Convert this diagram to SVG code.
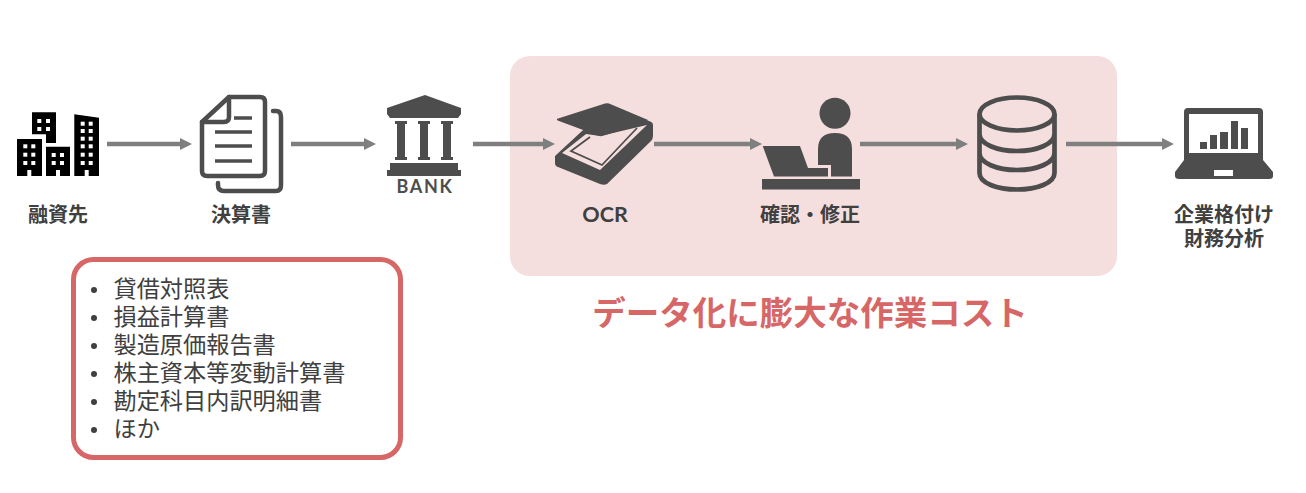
<svg xmlns="http://www.w3.org/2000/svg" width="1306" height="493" viewBox="0 0 1306 493">
<style>
.d{fill:#4d4d4d}
.o{fill:none;stroke:#4d4d4d;stroke-width:4.5;stroke-linejoin:round;stroke-linecap:round}
.w{fill:#fff}
.l{font-family:"Noto Sans CJK JP","Noto Sans",sans-serif;font-size:20px;font-weight:700;fill:#404040;text-anchor:middle}
.li{font-family:"Noto Sans CJK JP","Noto Sans",sans-serif;font-size:23.200px;fill:#404040}
.c{stroke:#7f7f7f;stroke-width:4.500;fill:none;marker-end:url(#a)}
</style>
<defs>
<marker id="a" markerUnits="userSpaceOnUse" markerWidth="12" markerHeight="12" refX="6" refY="6" orient="auto"><path d="M0 0L12 6L0 12Z" fill="#7f7f7f"/></marker>
</defs>
<rect width="1306" height="493" fill="#fff"/>
<rect id="highlight" x="510" y="56" width="607" height="220" rx="20" fill="#f5dede"/>
<g id="connectors">
<path class="c" d="M107 144H186"/>
<path class="c" d="M291 144H370"/>
<path class="c" d="M473 144H549"/>
<path class="c" d="M654 144H756"/>
<path class="c" d="M860 144H962"/>
<path class="c" d="M1066 144H1168"/>
</g>
<g id="node-borrower">
<path d="M32 112.300H56V143H46V134.300H32Z"/>
<path d="M17 139H42V176H31.300V170H27.300V176H17Z"/>
<path d="M46 146.700H70V176H60V170H56V176H46Z"/>
<path d="M74.300 114.300L99 117.700V176H88.700V170H84.700V176H74.300Z"/>
<g class="w">
<rect x="37.300" y="119" width="4" height="4"/><rect x="46" y="119" width="4" height="4"/><rect x="37.300" y="127" width="4" height="4"/><rect x="46" y="127" width="4" height="4"/>
<rect x="23.300" y="144.300" width="4" height="4"/><rect x="31.300" y="144.300" width="4" height="4"/><rect x="23.300" y="152.700" width="4" height="4"/><rect x="31.300" y="152.700" width="4" height="4"/><rect x="23.300" y="161" width="4" height="4"/><rect x="31.300" y="161" width="4" height="4"/>
<rect x="51.700" y="153" width="4" height="4"/><rect x="60" y="153" width="4" height="4"/><rect x="51.700" y="161" width="4" height="4"/><rect x="60" y="161" width="4" height="4"/>
<rect x="80.700" y="121.700" width="4" height="4"/><rect x="88.700" y="121.700" width="4" height="4"/><rect x="80.700" y="129" width="4" height="4"/><rect x="88.700" y="129" width="4" height="4"/><rect x="80.700" y="136.700" width="4" height="4"/><rect x="88.700" y="136.700" width="4" height="4"/><rect x="80.700" y="144.300" width="4" height="4"/><rect x="88.700" y="144.300" width="4" height="4"/><rect x="80.700" y="152.700" width="4" height="4"/><rect x="88.700" y="152.700" width="4" height="4"/><rect x="80.700" y="161" width="4" height="4"/><rect x="88.700" y="161" width="4" height="4"/>
</g>
<text class="l" x="58" y="222">融資先</text>
</g>
<g id="node-statements">
<path class="o" d="M229 97H260Q265 97 265 102V171Q265 176 260 176H207Q202 176 202 171V122Z"/>
<path class="o" d="M229 97V117Q229 122 224 122H202"/>
<path class="o" d="M273 111H276Q281 111 281 117V185Q281 191 276 191H224Q218 191 218 185V183"/>
<path d="M234 118H252M215 132H252M215 146H252M215 161H252" fill="none" stroke="#4d4d4d" stroke-width="3.500"/>
<text class="l" x="241" y="222">決算書</text>
</g>
<g id="node-bank">
<path class="d" d="M425 95L461 108V114L458 118H390L387 114V108Z"/>
<path class="d" d="M395 121H407V124H405V157H407V160H395V157H397V124H395ZM418 121H430V124H428V157H430V160H418V157H420V124H418ZM441 121H453V124H451V157H453V160H441V157H443V124H441Z"/>
<path class="d" d="M390 163H458V170H461V176H387V170H390Z"/>
<text x="425" y="193" text-anchor="middle" font-family="Lato,'Noto Sans',sans-serif" font-weight="700" font-size="18" letter-spacing="1.600" fill="#4d4d4d">BANK</text>
</g>
<g id="node-ocr">
<path class="d" fill-rule="evenodd" d="M582 131L555 156V163Q555 166 558 167L600 184Q604 185.500 607 184L651 141Q653 139 653 136V125Q653 122 649 121L630 113L590 125ZM586 134L562 153L600 170L647 125L600 136Z"/>
<path class="d" d="M557.300 118.700L605 103.500Q607 103 609 103.500L648 120L640 125L602 136Q600 136.500 598 135.500L559 121Q556 120 557.300 118.700Z"/>
<path d="M590 137L571 151L602 165L637 128" fill="none" stroke="#4d4d4d" stroke-width="1.800"/>
<text class="l" x="605" y="222" style="font-family:Lato,'Noto Sans',sans-serif;font-size:21.500px">OCR</text>
</g>
<g id="node-review">
<circle class="d" cx="835" cy="113.300" r="15.500"/>
<path class="d" d="M818 165V149Q818 133 835 133Q852 133 852 149V176.500H831V165Z"/>
<path class="d" d="M762.700 146H800L808 168H828V176.500H774Z"/>
<rect class="d" x="762" y="179" width="98" height="10.500"/>
<text class="l" x="810" y="222">確認・修正</text>
</g>
<g id="node-database">
<ellipse cx="1017" cy="114" rx="37.500" ry="16.500" fill="none" stroke="#4d4d4d" stroke-width="4.700"/>
<path d="M979.500 114V173C979.500 183 997 189.500 1017 189.500C1037 189.500 1054.500 183 1054.500 173V114M979.500 134C979.500 144 997 151 1017 151C1037 151 1054.500 144 1054.500 134M979.500 153C979.500 163 997 170 1017 170C1037 170 1054.500 163 1054.500 153" fill="none" stroke="#4d4d4d" stroke-width="4.700"/>
</g>
<g id="node-analysis">
<path class="d" fill-rule="evenodd" d="M1188 108H1259Q1263 108 1263 112V160L1273 172V176Q1273 179 1269 179H1179Q1175 179 1175 176V172L1184 160V112Q1184 108 1188 108ZM1189 114V153H1258V114ZM1214 170V176H1233V170Z"/>
<path class="d" d="M1200 142H1207V149H1200ZM1210 135H1217V149H1210ZM1220 132H1228V149H1220ZM1231 121H1238V149H1231ZM1241 128H1248V149H1241Z"/>
<text class="l" x="1224" y="222">企業格付け</text>
<text class="l" x="1224" y="246">財務分析</text>
</g>
<g id="node-documents">
<rect x="73.500" y="259.500" width="327" height="198" rx="20" fill="#fff" stroke="#d76767" stroke-width="5"/>
<g fill="#404040"><circle cx="94" cy="290" r="3"/><circle cx="94" cy="318" r="3"/><circle cx="94" cy="346" r="3"/><circle cx="94" cy="374" r="3"/><circle cx="94" cy="402" r="3"/><circle cx="94" cy="430" r="3"/></g>
<text class="li" x="113.500" y="297.300">貸借対照表</text>
<text class="li" x="113.500" y="325.300">損益計算書</text>
<text class="li" x="113.500" y="353.300">製造原価報告書</text>
<text class="li" x="113.500" y="381.300">株主資本等変動計算書</text>
<text class="li" x="113.500" y="409.300">勘定科目内訳明細書</text>
<text class="li" x="113.500" y="437.300">ほか</text>
</g>
<text id="caption" x="810" y="325" text-anchor="middle" font-family="'Noto Sans CJK JP',sans-serif" font-weight="700" font-size="33.500" fill="#d76767">データ化に膨大な作業コスト</text>
</svg>
